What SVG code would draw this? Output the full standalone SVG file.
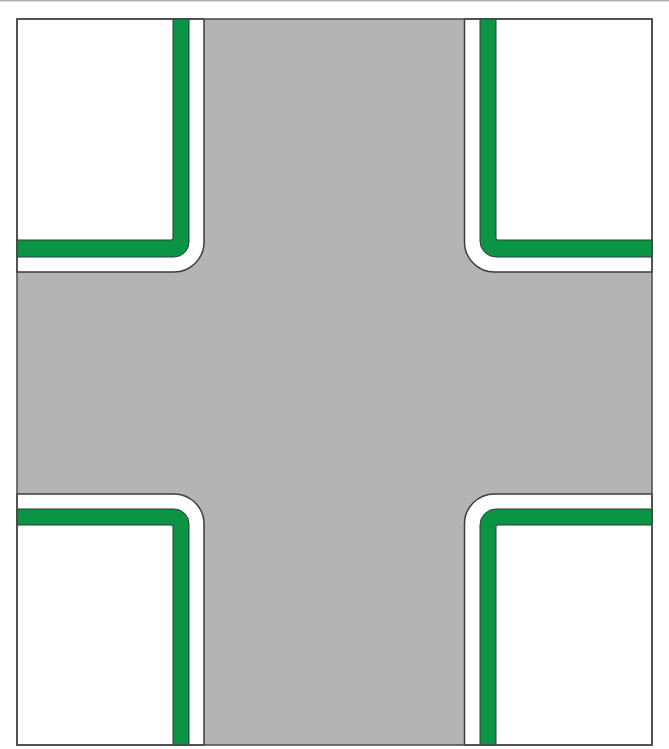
<svg xmlns="http://www.w3.org/2000/svg" width="669" height="749" viewBox="0 0 669 749">
<style>
.road{fill:#b3b4b3}
.block{fill:#ffffff;stroke:#3d3d3d;stroke-width:1.5}
.green{fill:#0a9444;stroke:#2f3a33;stroke-width:1}
.frame{fill:none;stroke:#4a4a4a;stroke-width:1.5}
</style>
<rect x="0" y="0" width="669" height="749" fill="#ffffff"/>
<line x1="0" y1="0.8" x2="669" y2="0.8" stroke="#b0b0b0" stroke-width="1.6"/>
<rect class="road" x="17" y="19" width="635" height="726"/>
<g id="block-top-left">
<path class="block" d="M17,19 H204 V242 A30,30 0 0 1 174,272 H17 Z"/>
<path class="green" d="M17,240 H171 Q173,240 173,238 V19 H189 V242 A15,15 0 0 1 174,257 H17 Z"/>
</g>
<g id="block-top-right">
<path class="block" d="M652,19 H464.5 V242 A30,30 0 0 0 494.5,272 H652 Z"/>
<path class="green" d="M652,240 H498 Q496,240 496,238 V19 H480 V241 A16,16 0 0 0 496,257 H652 Z"/>
</g>
<g id="block-bottom-left">
<path class="block" d="M17,745 H204 V524 A30,30 0 0 0 174,494 H17 Z"/>
<path class="green" d="M17,525 H171 Q173,525 173,527 V745 H189 V524 A15,15 0 0 0 174,509 H17 Z"/>
</g>
<g id="block-bottom-right">
<path class="block" d="M652,745 H464.5 V524 A30,30 0 0 1 494.5,494 H652 Z"/>
<path class="green" d="M652,525 H498 Q496,525 496,527 V745 H480 V525 A16,16 0 0 1 496,509 H652 Z"/>
</g>
<rect class="frame" x="17" y="19" width="635" height="726"/>
</svg>
